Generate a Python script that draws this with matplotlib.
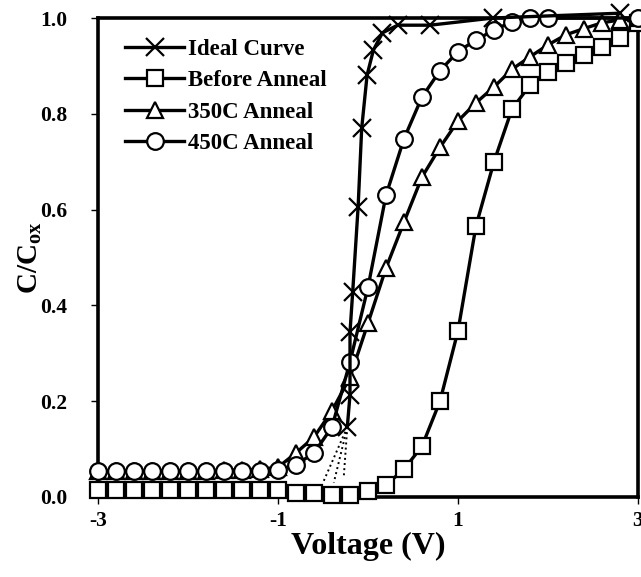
import numpy as np
import matplotlib as mpl
mpl.use('Agg')
import matplotlib.pyplot as plt

# values
ideal_v = [-0.23, -0.20, -0.20, -0.17, -0.11, -0.07, -0.01, 0.06, 0.16, 0.33, 0.69, 1.39, 2.80]
ideal_c = [0.146, 0.213, 0.344, 0.428, 0.605, 0.77, 0.881, 0.933, 0.969, 0.985, 0.985, 1.0, 1.01]
# dotted tail under the ideal curve
tail_v = [-0.50, -0.38, -0.27]
tail_c = [0.03, 0.03, 0.04]

before_v = [-3.0, -2.8, -2.6, -2.4, -2.2, -2.0, -1.8, -1.6, -1.4, -1.2, -1.0,
            -0.8, -0.6, -0.4, -0.2, 0.0, 0.2, 0.4, 0.6, 0.8, 1.0, 1.2, 1.4,
            1.6, 1.8, 2.0, 2.2, 2.4, 2.6, 2.8, 3.0]
before_c = [0.015, 0.015, 0.015, 0.015, 0.015, 0.015, 0.015, 0.015, 0.015, 0.015, 0.014,
            0.008, 0.008, 0.005, 0.005, 0.012, 0.025, 0.058, 0.106, 0.2, 0.347, 0.566, 0.70,
            0.81, 0.86, 0.887, 0.906, 0.923, 0.94, 0.958, 0.99]

a350_v = [-3.0, -2.8, -2.6, -2.4, -2.2, -2.0, -1.8, -1.6, -1.4, -1.2, -1.0,
          -0.8, -0.6, -0.4, -0.2, 0.0, 0.2, 0.4, 0.6, 0.8, 1.0, 1.2, 1.4,
          1.6, 1.8, 2.0, 2.2, 2.4, 2.6, 2.8, 3.0]
a350_c = [0.055, 0.055, 0.055, 0.055, 0.055, 0.055, 0.055, 0.056, 0.057, 0.058, 0.062,
          0.092, 0.125, 0.18, 0.25, 0.363, 0.478, 0.574, 0.668, 0.73, 0.785, 0.823, 0.856,
          0.893, 0.919, 0.944, 0.965, 0.978, 0.99, 0.996, 1.0]

a450_v = [-3.0, -2.8, -2.6, -2.4, -2.2, -2.0, -1.8, -1.6, -1.4, -1.2, -1.0,
          -0.8, -0.6, -0.4, -0.2, 0.0, 0.2, 0.4, 0.6, 0.8, 1.0, 1.2, 1.4,
          1.6, 1.8, 2.0, 3.0]
a450_c = [0.054, 0.054, 0.054, 0.054, 0.054, 0.054, 0.054, 0.054, 0.054, 0.054, 0.056,
          0.067, 0.092, 0.146, 0.282, 0.438, 0.63, 0.748, 0.835, 0.89, 0.93, 0.954, 0.975,
          0.992, 1.0, 1.0, 1.0]

xticks = [-3, -1, 1, 3]
yticks = [0.0, 0.2, 0.4, 0.6, 0.8, 1.0]

plt.rcParams['font.family'] = ['Liberation Serif', 'DejaVu Serif']
plt.rcParams['font.weight'] = 'bold'
plt.rcParams['mathtext.fontset'] = 'custom'
plt.rcParams['mathtext.rm'] = 'Liberation Serif:bold'
plt.rcParams['mathtext.bf'] = 'Liberation Serif:bold'

fig = plt.figure(figsize=(6.41, 5.77), dpi=100)
ax = fig.add_axes([98/641, 1-497/577, 540/641, 479/577])

common = dict(color='black', lw=2.4, mfc='white', mec='black', mew=1.6, clip_on=False)

ax.plot(before_v, before_c, marker='s', ms=11.5, label='Before Anneal', zorder=3, **common)
ax.plot(a350_v, a350_c, marker='^', ms=12, label='350C Anneal', zorder=4, **common)
ax.plot(a450_v, a450_c, marker='o', ms=12, label='450C Anneal', zorder=5, **common)
for tv, tc in zip(tail_v, tail_c):
	ax.plot([ideal_v[0], tv], [ideal_c[0], tc], color='black', lw=1.4, ls=':', zorder=2)
ax.plot(ideal_v, ideal_c, marker='x', ms=12.5, label='Ideal Curve', zorder=6,
	color='black', lw=2.4, mew=1.6, clip_on=False)

ax.set_xlim(-3, 3)
ax.set_ylim(0, 1.0)
ax.set_xticks(xticks)
ax.set_xticklabels([str(t) for t in xticks])
ax.set_yticks(yticks)
ax.set_yticklabels(['%.1f' % t for t in yticks])
ax.tick_params(axis='both', direction='out', length=5, width=1, labelsize=15.5)
ax.tick_params(axis='y', pad=17)
ax.tick_params(axis='x', pad=5)
for s in ax.spines.values():
	s.set_linewidth(2.6)

ax.set_xlabel('Voltage (V)', fontsize=23, fontweight='bold', labelpad=1)
ax.set_ylabel(r'C/C$_{\mathbf{ox}}$', fontsize=21, fontweight='bold', labelpad=-3)

h, l = ax.get_legend_handles_labels()
order = [3, 0, 1, 2]
leg = ax.legend([h[i] for i in order], [l[i] for i in order], loc='upper left',
	frameon=False, handlelength=2.6, handletextpad=0.15,
	labelspacing=0.45, borderaxespad=0.3, bbox_to_anchor=(0.02, 0.99),
	prop={'weight': 'bold', 'size': 16.5})

fig.savefig('out.png', dpi=100)
